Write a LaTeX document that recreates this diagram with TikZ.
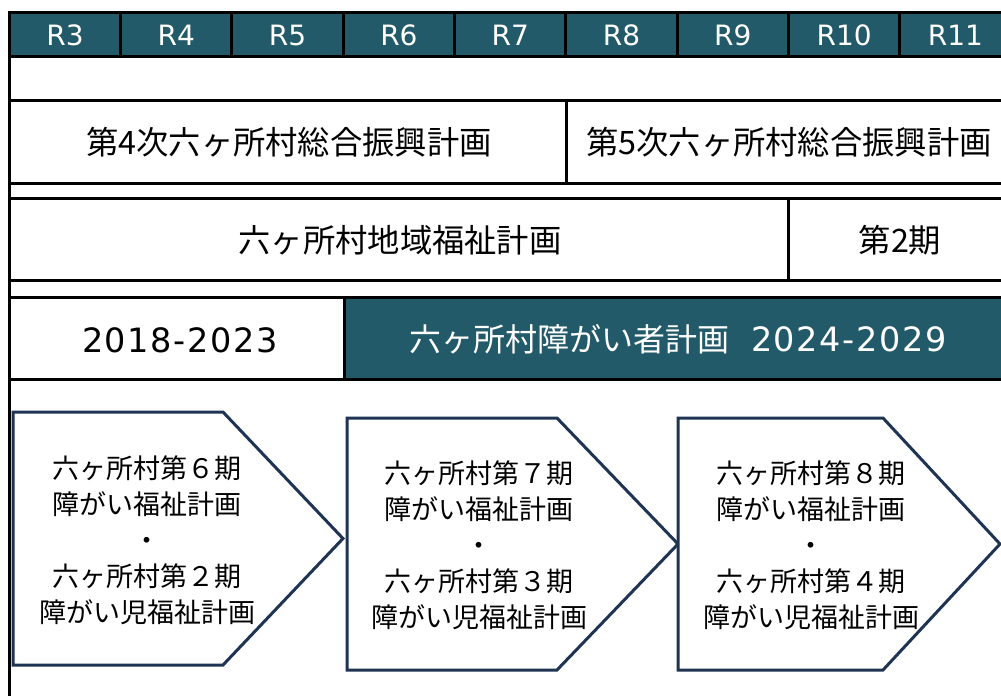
\documentclass[tikz,border=0pt]{standalone}
\usepackage{fontspec}
\setmainfont{Noto Sans CJK JP}
\newfontfamily\latf{DejaVu Sans}
\newfontfamily\yearf[LetterSpace=5]{DejaVu Sans}
\definecolor{hdrteal}{HTML}{235A69}
\definecolor{arrnavy}{HTML}{1F3352}
\tikzset{
  tbl/.style={line width=3pt, draw=black},
  hdr/.style={text=white, font=\latf\fontsize{28}{34}\selectfont, inner sep=0pt},
  cell/.style={text=black, font=\fontsize{32.3}{38}\selectfont, inner sep=0pt},
  yearlab/.style={font=\yearf\fontsize{33.5}{38}\selectfont, inner sep=0pt},
  arrowshape/.style={draw=arrnavy, line width=3pt, fill=white, line join=miter},
  arrtext/.style={align=center, font=\fontsize{27}{36}\selectfont, inner sep=0pt}
}
\begin{document}
\begin{tikzpicture}[x=1pt,y=-1pt]
\useasboundingbox (0,0) rectangle (1001,696);
% fills
\fill[hdrteal] (11,12) rectangle (1001,56);
\fill[hdrteal] (344,297) rectangle (1001,379);
% horizontal table lines
\foreach \yy in {12,56,100,183,198,280,297,379}
  \draw[tbl] (8,\yy) -- (1001,\yy);
% left border
\draw[tbl] (9.5,11) -- (9.5,696);
% header separators
\foreach \k in {0,...,7}
  \draw[tbl] ({120.5+111.3*\k},12) -- ({120.5+111.3*\k},56);
% row dividers
\draw[tbl] (566,100) -- (566,183);
\draw[tbl] (788,198) -- (788,280);
\draw[tbl] (344,297) -- (344,379);
% header labels
\node[hdr] (r3)  at ({65+111.3*0},35) {R3};
\node[hdr] (r4)  at ({65+111.3*1},35) {R4};
\node[hdr] (r5)  at ({65+111.3*2},35) {R5};
\node[hdr] (r6)  at ({65+111.3*3},35) {R6};
\node[hdr] (r7)  at ({65+111.3*4},35) {R7};
\node[hdr] (r8)  at ({65+111.3*5},35) {R8};
\node[hdr] (r9)  at ({65+111.3*6},35) {R9};
\node[hdr] (r10) at ({65+111.3*7},35) {R10};
\node[hdr] (r11) at ({65+111.3*8},35) {R11};
% row 2
\node[cell] (p4) at (289,142) {第4次六ヶ所村総合振興計画};
\node[cell] (p5) at (789,142) {第5次六ヶ所村総合振興計画};
% row 3
\node[cell] (wel) at (400,240) {六ヶ所村地域福祉計画};
\node[cell] (wel2) at (900,240) {第2期};
% row 4
\node[yearlab] (y1) at (180,340) {2018-2023};
\node[inner sep=0pt, text=white] (y2) at (678,339) {\fontsize{32}{38}\selectfont 六ヶ所村障がい者計画\hspace{22pt}{\yearf\fontsize{33.5}{38}\selectfont 2024-2029}};
% arrows
\draw[arrowshape] (13,412) -- (223,412) -- (343,538.5) -- (223,665) -- (13,665) -- cycle;
\draw[arrowshape] (347,418) -- (557,418) -- (678,544) -- (557,670) -- (347,670) -- cycle;
\draw[arrowshape] (678,418) -- (883,418) -- (1000,544) -- (883,670) -- (678,670) -- cycle;
\node[arrtext] (a1) at (147,540) {六ヶ所村第６期\\障がい福祉計画\\・\\六ヶ所村第２期\\障がい児福祉計画};
\node[arrtext] (a2) at (479,545) {六ヶ所村第７期\\障がい福祉計画\\・\\六ヶ所村第３期\\障がい児福祉計画};
\node[arrtext] (a3) at (811,545) {六ヶ所村第８期\\障がい福祉計画\\・\\六ヶ所村第４期\\障がい児福祉計画};
\end{tikzpicture}
\end{document}
